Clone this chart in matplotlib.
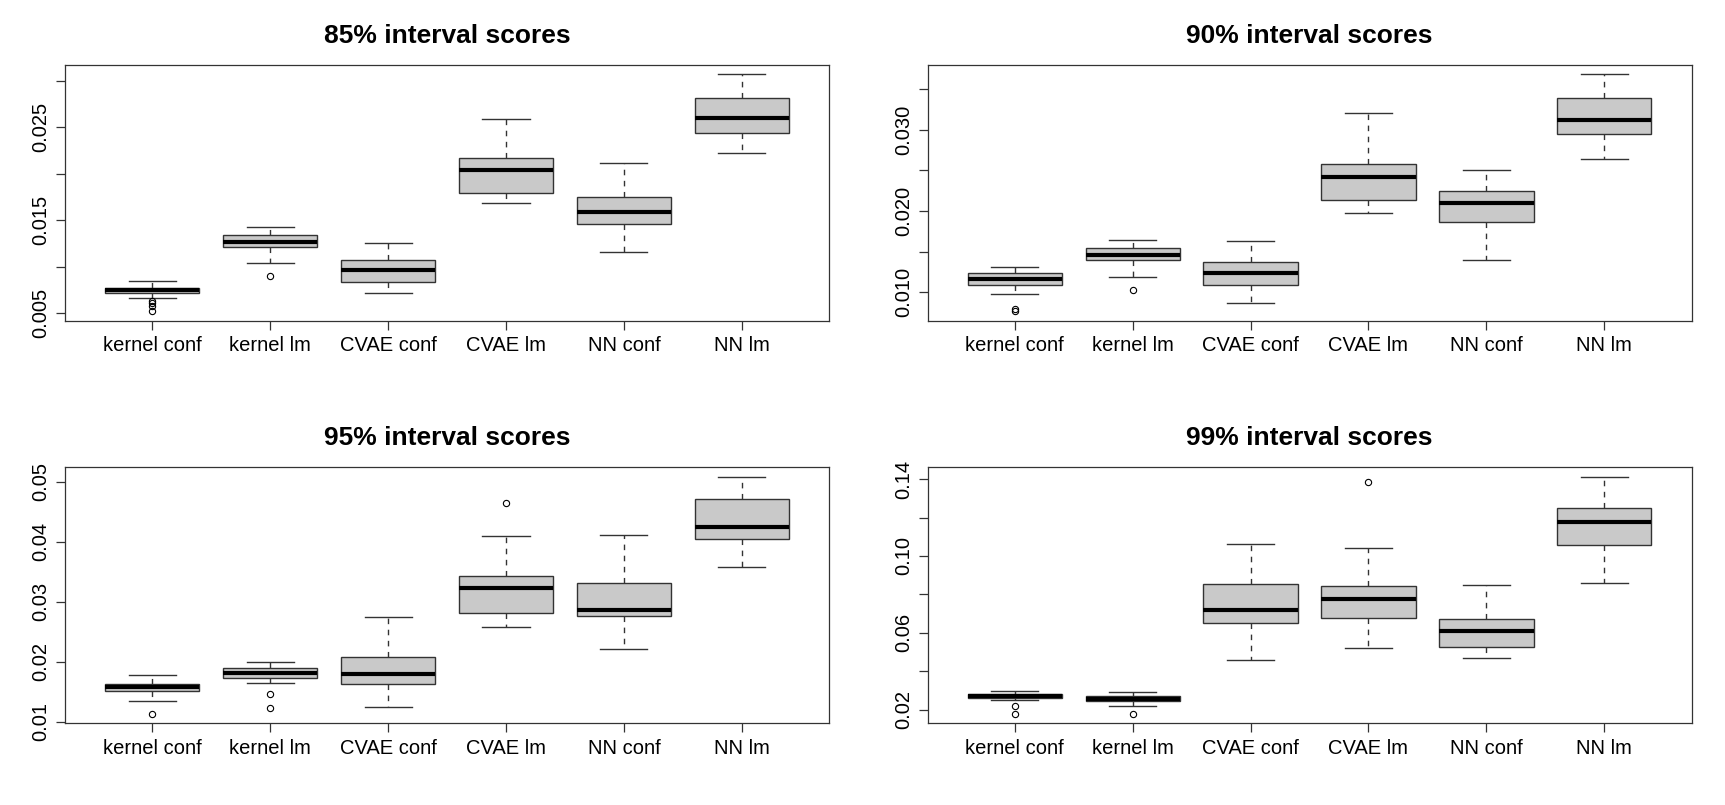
import numpy as np
import matplotlib.pyplot as plt

plt.rcParams['font.family'] = ['Liberation Sans', 'DejaVu Sans']

methods = ['kernel conf', 'kernel lm', 'CVAE conf', 'CVAE lm', 'NN conf', 'NN lm']
titles = ['85% interval scores', '90% interval scores', '95% interval scores', '99% interval scores']

# five-number summaries: low whisker, Q1, median, Q3, high whisker
whislo = [
    [0.00664, 0.01036, 0.00718, 0.01686, 0.01154, 0.02221],
    [0.00975, 0.01189, 0.00869, 0.01980, 0.01393, 0.02640],
    [0.01350, 0.01644, 0.01250, 0.02589, 0.02217, 0.03578],
    [0.02503, 0.02208, 0.04568, 0.05228, 0.04690, 0.08577],
]
q1 = [
    [0.00714, 0.01214, 0.00832, 0.01796, 0.01461, 0.02439],
    [0.01094, 0.01393, 0.01086, 0.02139, 0.01865, 0.02943],
    [0.01522, 0.01728, 0.01628, 0.02817, 0.02772, 0.04050],
    [0.02607, 0.02434, 0.06529, 0.06772, 0.05262, 0.10590],
]
med = [
    [0.00743, 0.01268, 0.00957, 0.02043, 0.01589, 0.02600],
    [0.01168, 0.01463, 0.01238, 0.02422, 0.02094, 0.03123],
    [0.01589, 0.01811, 0.01800, 0.03233, 0.02861, 0.04256],
    [0.02729, 0.02573, 0.07206, 0.07779, 0.06113, 0.11770],
]
q3 = [
    [0.00771, 0.01336, 0.01075, 0.02171, 0.01750, 0.02811],
    [0.01242, 0.01549, 0.01369, 0.02574, 0.02242, 0.03393],
    [0.01639, 0.01894, 0.02078, 0.03428, 0.03311, 0.04722],
    [0.02833, 0.02694, 0.08560, 0.08438, 0.06720, 0.12499],
]
whishi = [
    [0.00846, 0.01425, 0.01257, 0.02589, 0.02111, 0.03068],
    [0.01316, 0.01643, 0.01627, 0.03209, 0.02508, 0.03680],
    [0.01783, 0.02006, 0.02744, 0.04094, 0.04122, 0.05083],
    [0.02990, 0.02902, 0.10642, 0.10416, 0.08490, 0.14113],
]
outliers = [
    [[0.0063, 0.0061, 0.0058, 0.0052], [0.0090], [], [], [], []],
    [[0.0079, 0.0077], [0.01025], [], [], [], []],
    [[0.01139], [0.01472, 0.01239], [], [0.04656], [], []],
    [[0.02208, 0.01792], [0.01792], [], [0.13853], [], []],
]

yticks = [
    [0.005, 0.010, 0.015, 0.020, 0.025, 0.030],
    [0.010, 0.015, 0.020, 0.025, 0.030, 0.035],
    [0.01, 0.02, 0.03, 0.04, 0.05],
    [0.02, 0.04, 0.06, 0.08, 0.10, 0.12, 0.14],
]
ylabels = [
    ['0.005', '', '0.015', '', '0.025', ''],
    ['0.010', '', '0.020', '', '0.030', ''],
    ['0.01', '0.02', '0.03', '0.04', '0.05'],
    ['0.02', '', '0.06', '', '0.10', '', '0.14'],
]

fig = plt.figure(figsize=(17.25, 8.05), dpi=100)
positions = [
    [0.0377, 0.6018, 0.4429, 0.3175],
    [0.5377, 0.6018, 0.4429, 0.3175],
    [0.0377, 0.1018, 0.4429, 0.3175],
    [0.5377, 0.1018, 0.4429, 0.3175],
]

edge = '#333333'
for k in range(4):
    ax = fig.add_axes(positions[k])
    stats = []
    for i in range(6):
        stats.append(dict(whislo=whislo[k][i], q1=q1[k][i], med=med[k][i],
                          q3=q3[k][i], whishi=whishi[k][i], fliers=outliers[k][i]))
    ax.bxp(stats, positions=range(1, 7), widths=0.8, patch_artist=True,
           showfliers=True,
           boxprops=dict(facecolor='#c9c9c9', edgecolor=edge, linewidth=1.0),
           medianprops=dict(color='black', linewidth=3.0, solid_capstyle='butt'),
           whiskerprops=dict(color=edge, linewidth=1.0, linestyle=(0, (4, 4))),
           capprops=dict(color=edge, linewidth=1.0),
           capwidths=0.4,
           flierprops=dict(marker='o', markersize=4.5, markerfacecolor='none',
                           markeredgecolor='black', markeredgewidth=0.8))

    allv = whislo[k] + whishi[k] + [v for o in outliers[k] for v in o]
    lo, hi = min(allv), max(allv)
    r = hi - lo
    ax.set_ylim(lo - 0.04 * r, hi + 0.04 * r)
    ax.set_xlim(0.26, 6.74)

    ax.set_yticks(yticks[k])
    ax.set_yticklabels(ylabels[k], rotation=90, va='center', fontsize=14.5)
    ax.set_xticks(range(1, 7))
    ax.set_xticklabels(methods, fontsize=14.5)
    ax.tick_params(axis='both', direction='out', length=6.3, width=0.9, color=edge, pad=4)
    ax.tick_params(axis='x', pad=5)
    for s in ax.spines.values():
        s.set_linewidth(0.9)
        s.set_color(edge)
    ax.set_title(titles[k], fontsize=19, fontweight='bold', pad=16)

fig.savefig('out.png', dpi=100)
